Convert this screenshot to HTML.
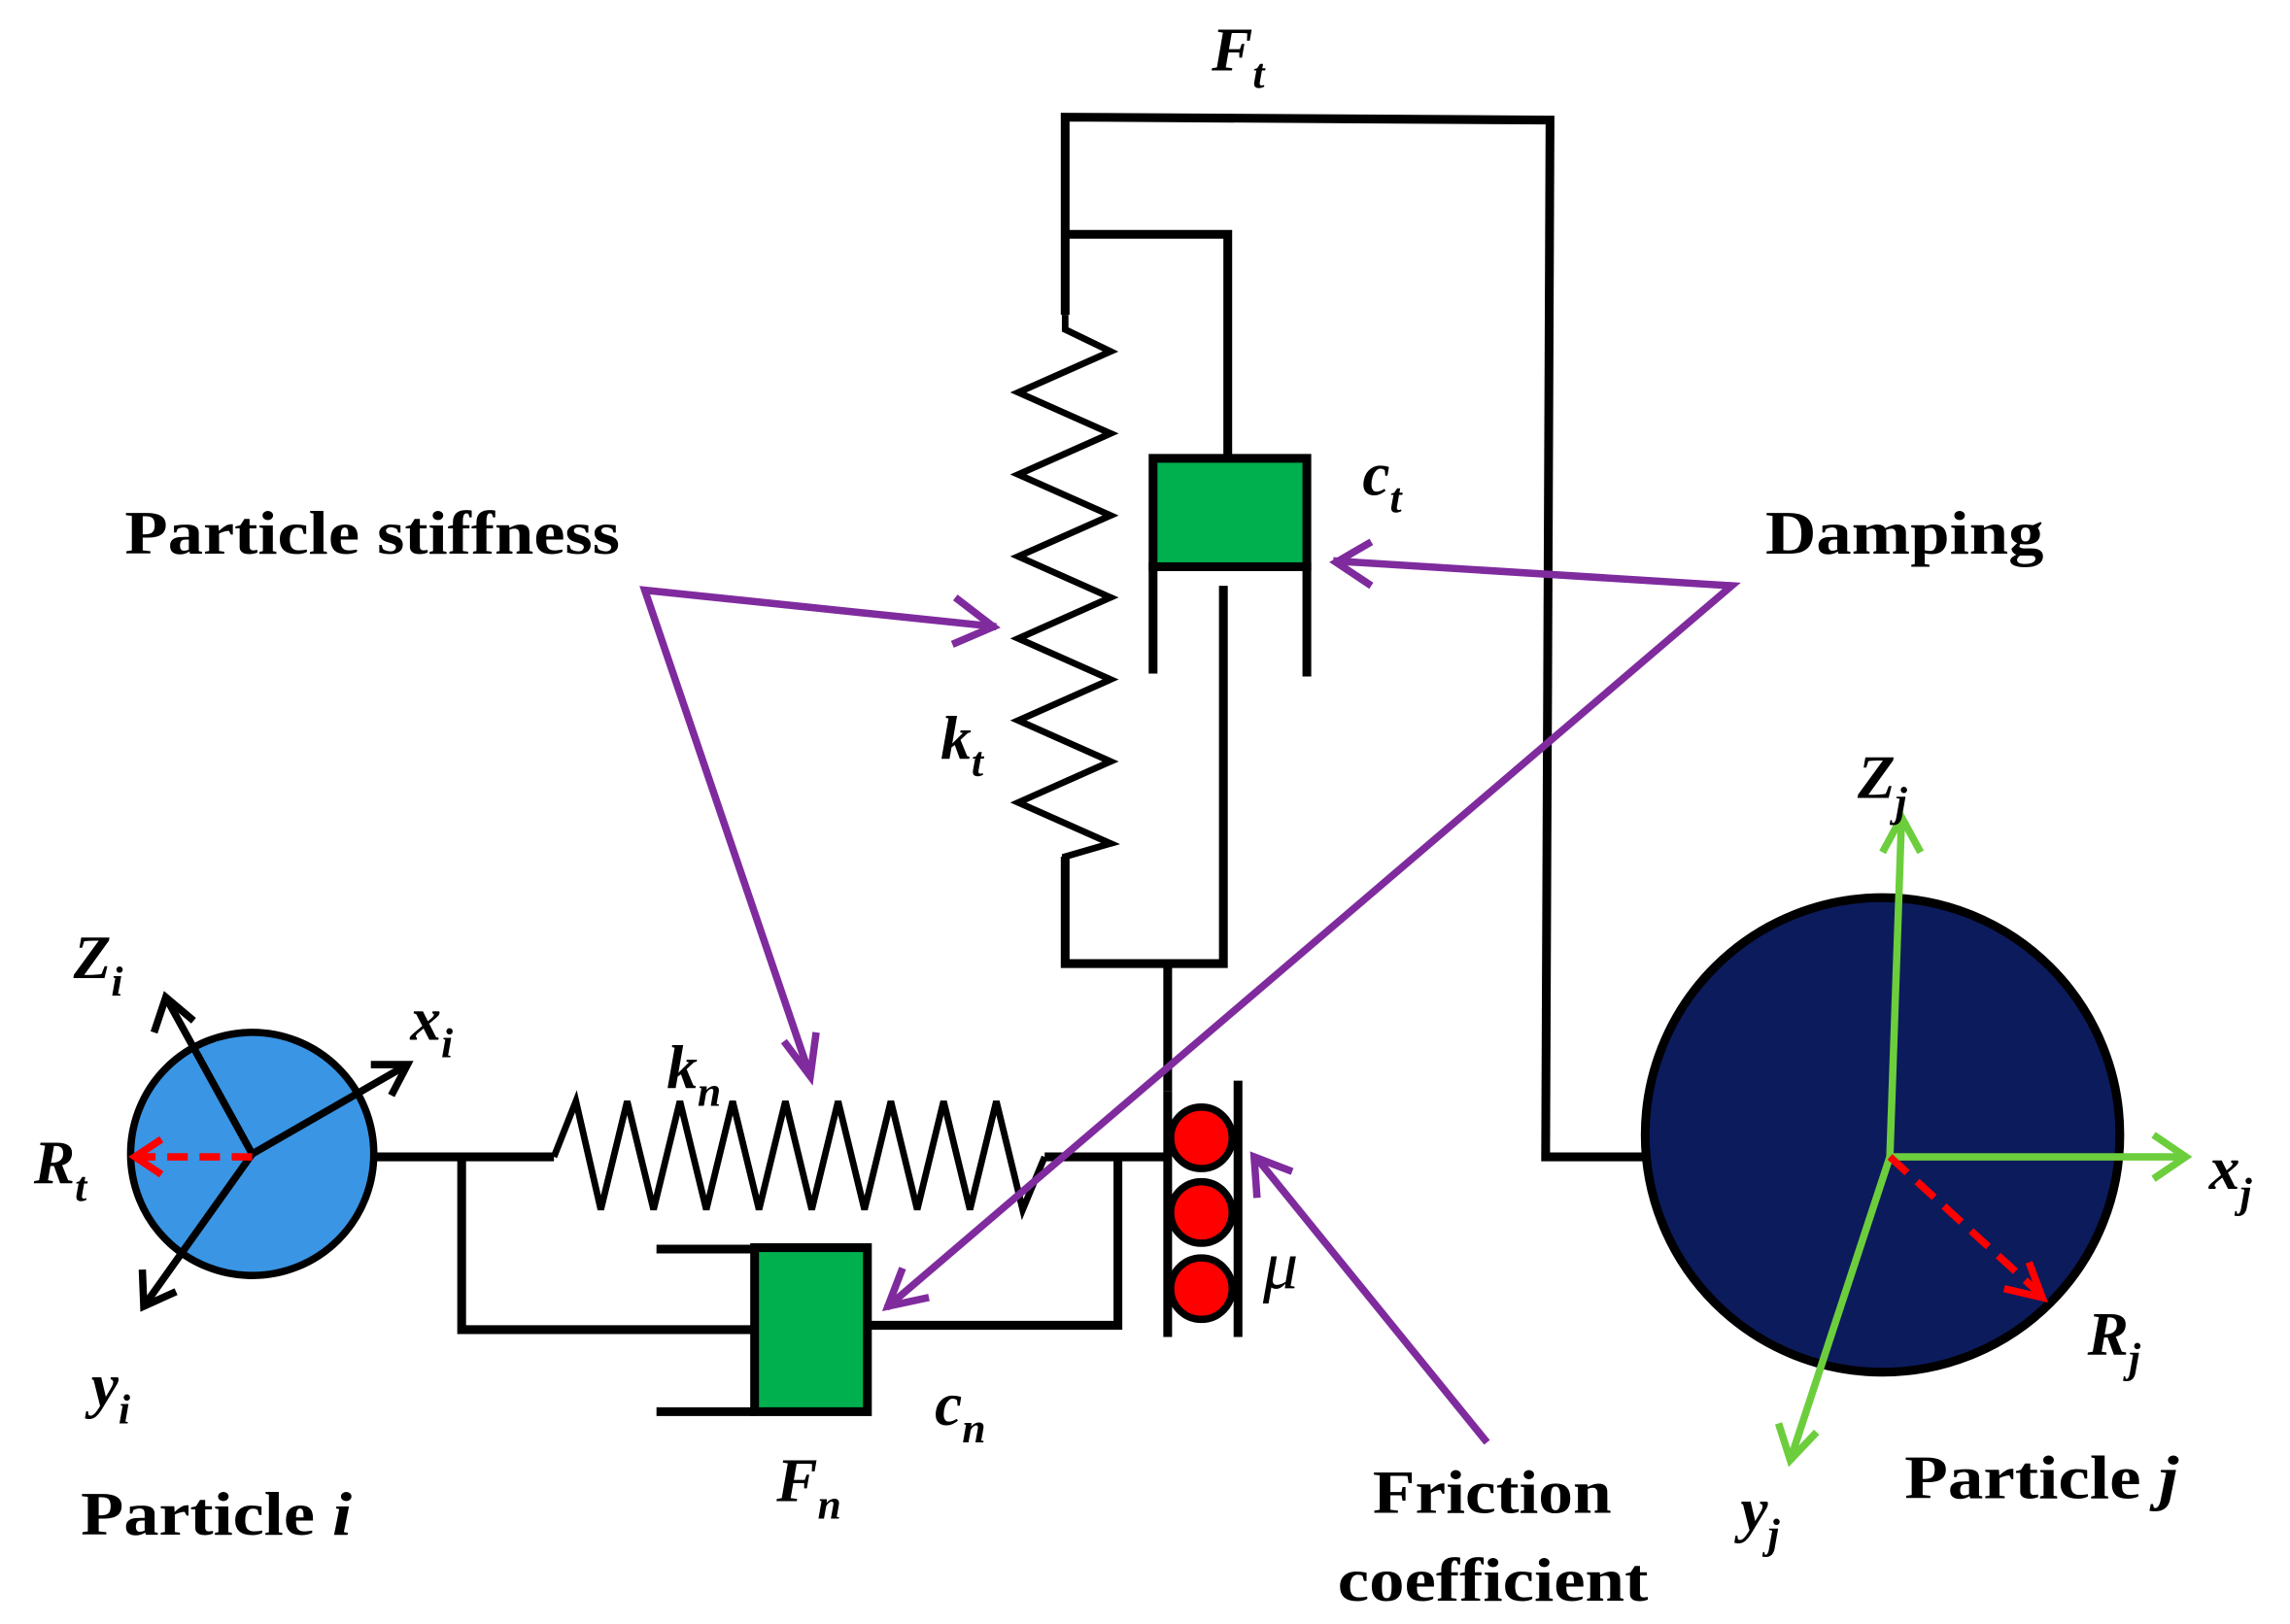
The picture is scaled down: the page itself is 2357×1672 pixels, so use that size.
<!DOCTYPE html>
<html><head><meta charset="utf-8"><style>html,body{margin:0;padding:0;background:#fff}svg{display:block}</style></head>
<body>
<svg width="2357" height="1672" viewBox="0 0 1563 1109" xmlns="http://www.w3.org/2000/svg">
<g fill="none" stroke="#000" stroke-width="6" stroke-linejoin="miter">
<polyline points="727,215 727,80 1058,82 1055,790 1125,790"/>
<polyline points="727,160 838,160 838,313"/>
<polyline points="787,460 787,387 892,387 892,462"/>
<polyline points="835,400 835,658 727,658 727,585"/>
<line x1="797" y1="658" x2="797" y2="745"/>
<polyline stroke-width="4.5" points="727,215 727,225 758,240 695,268 758,296 695,324 758,352 695,380 758,408 695,436 758,464 695,492 758,520 695,548 758,576 727,585 727,590"/>
<line x1="797" y1="745" x2="797" y2="913"/>
<line x1="845" y1="738" x2="845" y2="913"/>
<line x1="255" y1="790" x2="378" y2="790"/>
<polyline stroke-width="4.5" points="378,790 393,752 410,826 428,752 446,826 464,752 482,826 500,752 518,826 536,752 554,826 572,752 590,826 608,752 626,826 644,752 662,826 680,752 698,826 713,790"/>
<line x1="713" y1="790" x2="797" y2="790"/>
<polyline points="315,790 315,908 515,908"/>
<line x1="448" y1="853" x2="515" y2="853"/>
<line x1="448" y1="964" x2="515" y2="964"/>
<polyline points="592,905 763,905 763,790"/>
</g>
<rect x="787" y="313" width="105" height="74" fill="#00b04f" stroke="#000" stroke-width="6"/>
<rect x="515" y="852" width="77" height="112" fill="#00b04f" stroke="#000" stroke-width="6"/>
<g fill="#ff0000" stroke="#000" stroke-width="5">
<circle cx="820" cy="777" r="21"/><circle cx="820" cy="828" r="21"/><circle cx="820" cy="880" r="21"/>
</g>
<circle cx="172" cy="788" r="83" fill="#3a95e4" stroke="#000" stroke-width="5"/>
<g stroke="#000" stroke-width="5" fill="none">
<line x1="172" y1="788" x2="113" y2="681"/><polyline points="105,705 113,681 132,697"/>
<line x1="172" y1="788" x2="278" y2="727"/><polyline points="253,727 278,727 267,748"/>
<line x1="172" y1="788" x2="98" y2="892"/><polyline points="97,867 98,892 120,882"/>
</g>
<g stroke="#ff0000" stroke-width="5" fill="none">
<line x1="172" y1="790" x2="95" y2="790" stroke-dasharray="14,8"/><polyline points="110,778 92,790 110,802"/>
</g>
<circle cx="1285" cy="775" r="162" fill="#0c1b5c" stroke="#000" stroke-width="6"/>
<g stroke="#6cce3c" stroke-width="5" fill="none">
<line x1="1290" y1="790" x2="1298" y2="558"/><polyline points="1285,582 1298,558 1311,582"/>
<line x1="1290" y1="790" x2="1492" y2="790"/><polyline points="1470,775 1492,790 1470,805"/>
<line x1="1290" y1="790" x2="1222" y2="997"/><polyline points="1214,972 1222,997 1240,978"/>
</g>
<g stroke="#ff0000" stroke-width="5" fill="none">
<line x1="1290" y1="790" x2="1392" y2="883" stroke-dasharray="16,9"/><polyline points="1368,880 1394,886 1385,862"/>
</g>
<g stroke="#7f2b9e" stroke-width="5" fill="none">
<polyline points="680,428 440,403 553,735"/>
<polyline points="652,408 678,428 650,440"/>
<polyline points="535,711 553,735 557,705"/>
<polyline points="910,383 1182,400 605,893"/>
<polyline points="936,370 912,384 936,400"/>
<polyline points="616,866 606,892 634,886"/>
<line x1="1015" y1="985" x2="857" y2="790"/>
<polyline points="858,818 856,790 882,800"/>
</g>
<g font-family="Liberation Serif, serif" font-weight="bold" font-size="42" fill="#000" lengthAdjust="spacingAndGlyphs">
<text x="85" y="378" textLength="338" lengthAdjust="spacingAndGlyphs">Particle stiffness</text>
<text x="1205" y="378" textLength="190" lengthAdjust="spacingAndGlyphs">Damping</text>
<text x="55" y="1048" textLength="185" lengthAdjust="spacingAndGlyphs">Particle <tspan font-style="italic">i</tspan></text>
<text x="1300" y="1023" textLength="187" lengthAdjust="spacingAndGlyphs">Particle <tspan font-style="italic">j</tspan></text>
<text x="937" y="1033" textLength="163" lengthAdjust="spacingAndGlyphs">Friction</text>
<text x="913" y="1093" textLength="212" lengthAdjust="spacingAndGlyphs">coefficient</text>
</g>
<g font-family="Liberation Serif, serif" font-weight="bold" font-style="italic" font-size="42" fill="#000">
<text x="827" y="48">F<tspan font-size="29" dy="12">t</tspan></text>
<text x="930" y="338">c<tspan font-size="29" dy="12">t</tspan></text>
<text x="642" y="518">k<tspan font-size="29" dy="12">t</tspan></text>
<text x="455" y="743">k<tspan font-size="29" dy="12">n</tspan></text>
<text x="638" y="973">c<tspan font-size="29" dy="12">n</tspan></text>
<text x="530" y="1025">F<tspan font-size="29" dy="12">n</tspan></text>
<text x="862" y="880" font-weight="normal" font-size="48">μ</text>
<text x="50" y="668">Z<tspan font-size="29" dy="12">i</tspan></text>
<text x="280" y="710">x<tspan font-size="29" dy="12">i</tspan></text>
<text x="23" y="808">R<tspan font-size="29" dy="12">t</tspan></text>
<text x="62" y="960">y<tspan font-size="29" dy="12">i</tspan></text>
<text x="1268" y="545">Z<tspan font-size="29" dy="12">j</tspan></text>
<text x="1508" y="812">x<tspan font-size="29" dy="12">j</tspan></text>
<text x="1425" y="925">R<tspan font-size="29" dy="12">j</tspan></text>
<text x="1188" y="1045">y<tspan font-size="29" dy="12">j</tspan></text>
</g>
</svg>
</body></html>
